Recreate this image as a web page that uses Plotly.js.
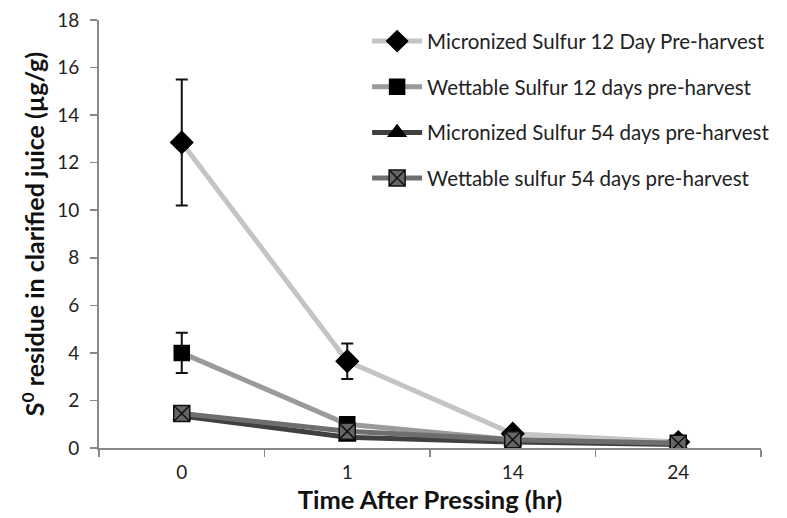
<!DOCTYPE html>
<html><head><meta charset="utf-8">
<script src="https://cdn.plot.ly/plotly-3.0.1.min.js"></script>
<style>body{margin:0;background:#fff}#c{width:787px;height:518px}</style>
</head><body><div id="c"></div>
<script>
const categories = ['0','1','14','24'];
const names = ['Micronized Sulfur 12 Day Pre-harvest','Wettable Sulfur 12 days pre-harvest','Micronized Sulfur 54 days pre-harvest','Wettable sulfur 54 days pre-harvest'];
const micro12 = [12.85, 3.65, 0.6, 0.25];
const micro12Err = [2.65, 0.75, 0, 0];
const wett12 = [4.0, 1.0, 0.35, 0.2];
const wett12Err = [0.85, 0, 0, 0];
const micro54 = [1.35, 0.45, 0.25, 0.15];
const wett54 = [1.45, 0.7, 0.35, 0.2];

const font = 'Lato, "Open Sans", sans-serif';
function tr(y, err, name, lineColor, sym, mcol, mline, msize, grp){
  const t = {x: categories, y: y, name: name, type:'scatter', mode:'lines+markers', legendgroup: grp,
    line:{color: lineColor, width:5},
    marker:{symbol: sym, color: mcol, size: msize, line:{color: mline, width: 1.5}}};
  if (err) t.error_y = {type:'data', array: err, visible:true, color:'#111', thickness:2, width:6};
  return t;
}
const data = [
  tr(micro12, micro12Err, names[0], '#c4c4c4', 'diamond', '#000', '#000', 17, 'a'),
  tr(wett12, wett12Err, names[1], '#9a9a9a', 'square', '#000', '#000', 15, 'b'),
  tr(micro54, null, names[2], '#404040', 'triangle-up', '#000', '#000', 15, 'c'),
  tr(wett54, null, names[3], '#6e6e6e', 'square-x', '#666', '#111', 16, 'd'),
];
const layout = {
  width:787, height:518,
  margin:{l:99, r:13, t:20, b:70},
  paper_bgcolor:'#fff', plot_bgcolor:'#fff',
  font:{family: font, size:19, color:'#222'},
  showlegend:true,
  legend:{x:0.405, y:0.997, xanchor:'left', yanchor:'top', traceorder:'grouped', tracegroupgap:16,
    itemwidth:50, font:{family: font, size:20.5, color:'#222'}, bgcolor:'rgba(0,0,0,0)'},
  xaxis:{type:'category', categoryorder:'array', categoryarray: categories, range:[-0.5,3.5], automargin:false,
    showline:true, linecolor:'#888', linewidth:2, ticks:'outside', tickson:'boundaries', ticklen:7, tickcolor:'#888', tickwidth:1.5,
    ticklabelstandoff:6,
    showgrid:false, zeroline:false, tickfont:{size:19, color:'#222'},
    title:{text:'<b>Time After Pressing (hr)</b>', font:{size:25.5, color:'#111'}, standoff:9}},
  yaxis:{range:[0,18], dtick:2, automargin:false, showline:true, linecolor:'#888', linewidth:2, ticks:'outside', ticklen:7, tickcolor:'#888', tickwidth:1.5,
    ticklabelstandoff:7,
    showgrid:false, zeroline:false, tickfont:{size:19, color:'#222'},
    title:{text:'<b>S<sup>0</sup> residue in clarified juice (µg/g)</b>', font:{size:25, color:'#111'}, standoff:5}}
};
Plotly.newPlot('c', data, layout, {displayModeBar:false, staticPlot:true});
</script></body></html>
